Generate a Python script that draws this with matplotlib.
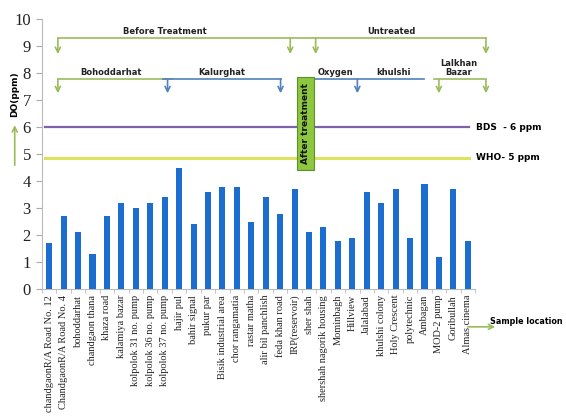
import matplotlib
matplotlib.use("Agg")
import matplotlib.pyplot as plt
import numpy as np

locations = [
    "chandgaonR/A Road No. 12", "ChandgaonR/A Road No. 4", "bohoddarhat",
    "chandgaon thana", "khaza road", "kalamiya bazar", "kolpolok 31 no. pump",
    "kolpolok 36 no. pump", "kolpolok 37 no. pump", "hajir pul", "bahir signal",
    "pukur par", "Bisik industrial area", "chor rangamatia", "rastar matha",
    "alir bil panchlish", "feda khan road", "IRP(reservoir)", "sher shah",
    "shershah nagorik housing", "Mominbagh", "Hillview", "Jalalabad",
    "khulshi colony", "Holy Crescent", "polytechnic", "Ambagan", "MOD-2 pump",
    "Goribullah", "Almas cinema",
]
do_ppm = [1.7, 2.7, 2.1, 1.3, 2.7, 3.2, 3.0, 3.2, 3.4, 4.5, 2.4, 3.6, 3.8, 3.8,
          2.5, 3.4, 2.8, 3.7, 2.1, 2.3, 1.8, 1.9, 3.6, 3.2, 3.7, 1.9, 3.9, 1.2,
          3.7, 1.8]
bds_limit = 6.0
who_limit = 4.87
y_ticks = list(range(0, 11))

BAR = "#1c6dd0"
GREEN = "#9bbb59"
BLUE = "#4f81bd"
PURPLE = "#7f63a8"
YELLOW = "#dde35c"

fig = plt.figure(figsize=(5.66, 4.18), dpi=100)
ax = fig.add_axes([0.0742, 0.308, 0.7650, 0.6467])

x = np.arange(len(locations))
ax.bar(x, do_ppm, width=0.42, color=BAR, zorder=3)
ax.set_xlim(-0.5, len(locations) - 0.5)
ax.set_ylim(0, 10)

ax.set_yticks(y_ticks)
ax.set_yticklabels([str(t) for t in y_ticks], family="Liberation Serif",
                   fontsize=12, color="#222222")
ax.tick_params(axis="y", length=4, color="#aaaaaa", pad=4)
ax.set_xticks(x)
ax.set_xticklabels(locations, rotation=90, family="Liberation Serif",
                   fontsize=7.5, color="#222222")
ax.set_xticks(np.arange(-0.5, len(locations)), minor=True)
ax.tick_params(axis="x", which="major", length=0, pad=4)
ax.tick_params(axis="x", which="minor", length=3, color="#bbbbbb")
for s in ["top", "right"]:
    ax.spines[s].set_visible(False)
for s in ["left", "bottom"]:
    ax.spines[s].set_color("#bbbbbb")

# Standard lines
ax.plot([-0.29, 29.08], [bds_limit, bds_limit], color=PURPLE, lw=1.6, zorder=2,
        clip_on=False)
ax.plot([-0.29, 29.08], [who_limit, who_limit], color=YELLOW, lw=2.2, zorder=2,
        clip_on=False)
ax.text(29.56, bds_limit, "BDS  - 6 ppm", fontsize=6.5, fontweight="bold",
        va="center", ha="left", clip_on=False)
ax.text(29.56, who_limit, "WHO- 5 ppm", fontsize=6.5, fontweight="bold",
        va="center", ha="left", clip_on=False)


def bracket(x0, x1, y, arrows, color, tip):
    ax.plot([x0, x1], [y, y], color=color, lw=1.2, clip_on=False, zorder=4)
    for xa in arrows:
        ax.annotate("", xy=(xa, tip), xytext=(xa, y), annotation_clip=False,
                    arrowprops=dict(arrowstyle="->", color=color, lw=1.2,
                                    shrinkA=0, shrinkB=0, mutation_scale=9))


lbl = dict(fontsize=6, fontweight="bold", ha="center", va="center",
           color="#222222", clip_on=False)

# Treatment groups
bracket(0.6, 30.26, 9.29, [0.6, 16.7, 18.46, 30.26], GREEN, 8.7)
ax.text(7.98, 9.55, "Before Treatment", **lbl)
ax.text(23.7, 9.55, "Untreated", **lbl)

# Area groups
bracket(0.6, 8.5, 7.78, [0.6], GREEN, 7.25)
bracket(7.9, 16.03, 7.78, [8.2, 16.03], BLUE, 7.25)
bracket(18.32, 25.95, 7.78, [21.35], BLUE, 7.25)
bracket(26.65, 30.26, 7.76, [27.0, 30.26], GREEN, 7.25)
ax.text(4.3, 8.01, "Bohoddarhat", **lbl)
ax.text(11.98, 8.01, "Kalurghat", **lbl)
ax.text(19.85, 8.01, "Oxygen", **lbl)
ax.text(23.87, 8.01, "khulshi", **lbl)
ax.text(28.4, 8.36, "Lalkhan", **lbl)
ax.text(28.4, 8.01, "Bazar", **lbl)

# After treatment marker
ax.add_patch(plt.Rectangle((17.14, 4.41), 1.18, 3.44, facecolor="#8dc63f",
                           edgecolor="#5f8f2a", lw=0.8, zorder=5))
ax.text(17.73, 6.13, "After treatment", rotation=90, fontsize=6.5,
        fontweight="bold", ha="center", va="center", color="#111111", zorder=6)

# Axis captions
ax.text(-2.43, 7.22, "DO(ppm)", rotation=90, fontsize=6.5, fontweight="bold",
        ha="center", va="center", clip_on=False)
ax.annotate("", xy=(-2.39, 6.07), xytext=(-2.39, 4.59), annotation_clip=False,
            arrowprops=dict(arrowstyle="->", color=GREEN, lw=1.2, shrinkA=0,
                            shrinkB=0, mutation_scale=9))
ax.annotate("", xy=(30.9, -1.39), xytext=(29.0, -1.39), annotation_clip=False,
            arrowprops=dict(arrowstyle="->", color=GREEN, lw=1.2, shrinkA=0,
                            shrinkB=0, mutation_scale=9))
ax.text(30.55, -1.21, "Sample location", fontsize=5.8, fontweight="bold",
        ha="left", va="center", clip_on=False)

fig.savefig("out.png", dpi=100, facecolor="white")
